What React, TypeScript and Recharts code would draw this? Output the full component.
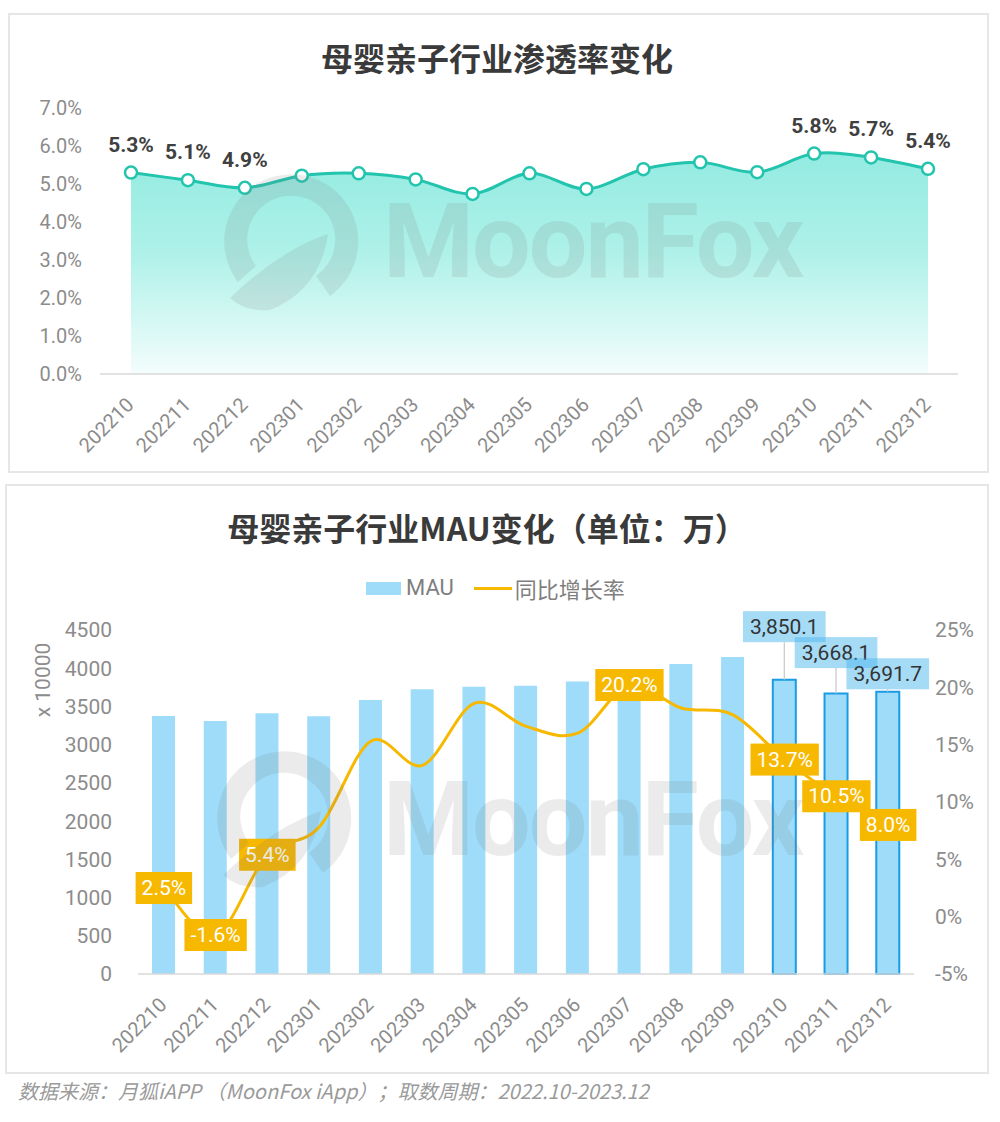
import React from 'react';
import {
  AreaChart,
  Area,
  ComposedChart,
  Bar,
  Line,
  XAxis,
  YAxis,
  LabelList,
  Legend,
  Cell,
} from 'recharts';

// ---------- data ----------
const months = [
  '202210', '202211', '202212', '202301', '202302', '202303', '202304', '202305',
  '202306', '202307', '202308', '202309', '202310', '202311', '202312',
];
const penetration = [5.3, 5.1, 4.9, 5.22, 5.28, 5.12, 4.74, 5.28, 4.87, 5.39, 5.57, 5.31, 5.8, 5.7, 5.4];
const mau = [3375, 3310, 3410, 3371, 3584, 3724, 3759, 3772, 3825, 3940, 4055, 4147, 3850.1, 3668.1, 3691.7];
const growth = [2.5, -1.6, 5.4, 7.8, 15.3, 13.2, 18.6, 16.6, 16.0, 20.2, 18.2, 17.6, 13.7, 10.5, 8.0];

const penTicks = [0, 1, 2, 3, 4, 5, 6, 7];
const mauTicks = [0, 500, 1000, 1500, 2000, 2500, 3000, 3500, 4000, 4500];
const growthTicks = [-5, 0, 5, 10, 15, 20, 25];

const penLabeled = [0, 1, 2, 12, 13, 14];
const growthLabeled = [0, 1, 2, 9, 12, 13, 14];
const mauHighlighted = [12, 13, 14];
const mauLabelLift = [53, 41, 18];

const penData = months.map((m, i) => ({ month: m, pen: penetration[i] }));
const mauData = months.map((m, i) => ({ month: m, mau: mau[i], growth: growth[i] }));

// ---------- style ----------
const FONT = "Roboto, 'Noto Sans CJK SC', sans-serif";
const CJK = "'Noto Sans CJK SC', Roboto, sans-serif";
const TEAL = '#22c4ae';
const ORANGE = '#f7b800';
const BAR = '#9edcfa';
const BAR_STROKE = '#1a9be6';
const TICK = '#8c8c8c';
const AXIS = '#d9d9d9';

// Catmull-Rom style smoothing (similar to spreadsheet "smoothed line")
const smoothCurve: any = (context: any) => {
  let line = NaN;
  let pts: number[][] = [];
  return {
    areaStart() { line = 0; },
    areaEnd() { line = NaN; },
    lineStart() { pts = []; },
    point(x: number, y: number) { pts.push([+x, +y]); },
    lineEnd() {
      const n = pts.length;
      if (n > 0) {
        if (line) context.lineTo(pts[0][0], pts[0][1]);
        else context.moveTo(pts[0][0], pts[0][1]);
        for (let i = 0; i < n - 1; i++) {
          const p0 = pts[Math.max(0, i - 1)];
          const p1 = pts[i];
          const p2 = pts[i + 1];
          const p3 = pts[Math.min(n - 1, i + 2)];
          context.bezierCurveTo(
            p1[0] + (p2[0] - p0[0]) / 6,
            p1[1] + (p2[1] - p0[1]) / 6,
            p2[0] - (p3[0] - p1[0]) / 6,
            p2[1] - (p3[1] - p1[1]) / 6,
            p2[0],
            p2[1],
          );
        }
      }
      if (line || (line !== 0 && n === 1)) context.closePath();
      line = 1 - line;
    },
  };
};

const charW: Record<string, number> = { '.': 0.263, '%': 0.733, '-': 0.276, ',': 0.196 };
const textWidth = (s: string, size: number) =>
  s.split('').reduce((a, c) => a + (charW[c] ?? 0.562), 0) * size;

const getIndex = (props: any, arr: number[]) => {
  if (typeof props.index === 'number') return props.index;
  return arr.indexOf(Number(props.value));
};
const getBox = (props: any) => {
  const vb = props.viewBox || {};
  const x = typeof props.x === 'number' ? props.x : vb.x;
  const y = typeof props.y === 'number' ? props.y : vb.y;
  const w = typeof props.width === 'number' ? props.width : vb.width || 0;
  const h = typeof props.height === 'number' ? props.height : vb.height || 0;
  return { x, y, w, h };
};

const RotTick = (props: any) => {
  const { x, y, payload } = props;
  return (
    <text
      x={0}
      y={0}
      transform={`translate(${x + 4},${y + 32}) rotate(-45)`}
      textAnchor="end"
      fill={TICK}
      fontSize={20}
      fontFamily={FONT}
    >
      {payload.value}
    </text>
  );
};

const PenLabel = (props: any) => {
  const i = getIndex(props, penetration);
  if (!penLabeled.includes(i)) return null;
  const { x, y, w } = getBox(props);
  return (
    <text
      x={x + w / 2}
      y={y - 21}
      textAnchor="middle"
      fill="#404040"
      fontSize={21}
      fontWeight={700}
      fontFamily={FONT}
    >
      {`${Number(props.value).toFixed(1)}%`}
    </text>
  );
};

const GrowthLabel = (props: any) => {
  const i = getIndex(props, growth);
  if (!growthLabeled.includes(i)) return null;
  const { x, y, w, h } = getBox(props);
  const cx = x + w / 2;
  const cy = y + h / 2;
  const text = `${Number(props.value).toFixed(1)}%`;
  const bw = textWidth(text, 21) + 12;
  return (
    <g>
      <rect x={cx - bw / 2} y={cy - 16} width={bw} height={32} fill={ORANGE} />
      <text
        x={cx}
        y={cy}
        textAnchor="middle"
        dominantBaseline="central"
        fill="#ffffff"
        fontSize={21}
        fontFamily={FONT}
      >
        {text}
      </text>
    </g>
  );
};

const MauLabel = (props: any) => {
  const i = getIndex(props, mau);
  const k = mauHighlighted.indexOf(i);
  if (k < 0) return null;
  const { x, y, w } = getBox(props);
  const cx = x + w / 2;
  const cy = y - mauLabelLift[k];
  const text = Number(props.value).toLocaleString('en-US', { minimumFractionDigits: 1, maximumFractionDigits: 1 });
  const bw = textWidth(text, 21) + 14;
  return (
    <g>
      {cy + 15.5 < y && <line x1={cx} y1={cy + 15.5} x2={cx} y2={y} stroke="#c8c8c8" strokeWidth={1.2} />}
      <rect x={cx - bw / 2} y={cy - 15.5} width={bw} height={31} fill="#4db8ee" fillOpacity={0.5} />
      <text
        x={cx}
        y={cy}
        textAnchor="middle"
        dominantBaseline="central"
        fill="#333333"
        fontSize={21}
        fontFamily={FONT}
      >
        {text}
      </text>
    </g>
  );
};

const LegendContent = () => (
  <div style={{ display: 'flex', alignItems: 'center', fontFamily: FONT, fontSize: 22, color: '#7f7f7f', whiteSpace: 'nowrap', lineHeight: '28px' }}>
    <span style={{ display: 'inline-block', width: 35, height: 13, background: BAR, marginRight: 5 }} />
    <span>MAU</span>
    <span style={{ display: 'inline-block', width: 38, height: 3, background: ORANGE, marginLeft: 20, marginRight: 3 }} />
    <span style={{ fontFamily: CJK }}>同比增长率</span>
  </div>
);

const Watermark = ({ cx, cy, tx, ty }: { cx: number; cy: number; tx: number; ty: number }) => (
  <g fill="#7a7a7a" fillOpacity={0.15}>
    <path
      d={`M ${cx - 52} ${cy + 42} A 67 67 0 1 1 ${cx + 40} ${cy + 56} L ${cx + 26} ${cy + 36} A 44 44 0 1 0 ${cx - 34} ${cy + 26} Z`}
    />
    <path
      d={`M ${cx - 60} ${cy + 58} Q ${cx - 10} ${cy + 10} ${cx + 38} ${cy - 6} Q ${cx + 30} ${cy + 50} ${cx - 20} ${cy + 70} Q ${cx - 45} ${cy + 72} ${cx - 60} ${cy + 58} Z`}
    />
    <text x={tx} y={ty} fontSize={104} fontWeight={700} fontFamily={FONT} letterSpacing={-2}>
      MoonFox
    </text>
  </g>
);

export default function App() {
  return (
    <div style={{ position: 'absolute', left: 0, top: 0, width: 1000, height: 1122, background: '#ffffff', overflow: 'hidden' }}>
      {/* panel frames */}
      <div style={{ position: 'absolute', left: 8, top: 13, width: 977, height: 456, border: '2px solid #e6e6e6' }} />
      <div style={{ position: 'absolute', left: 5, top: 484, width: 980, height: 586, border: '2px solid #e6e6e6' }} />

      {/* titles */}
      <div style={{ position: 'absolute', left: 0, top: 36, width: 994, textAlign: 'center', fontFamily: CJK, fontWeight: 700, fontSize: 32, lineHeight: '42px', color: '#3a3a3a' }}>
        母婴亲子行业渗透率变化
      </div>
      <div style={{ position: 'absolute', left: 0, top: 506, width: 974, textAlign: 'center', fontFamily: CJK, fontWeight: 700, fontSize: 32, lineHeight: '42px', color: '#3a3a3a' }}>
        母婴亲子行业MAU变化（单位：万）
      </div>

      {/* top chart */}
      <div style={{ position: 'absolute', left: 0, top: 0 }}>
        <AreaChart width={1000} height={480} data={penData} margin={{ top: 108, right: 42, bottom: 26, left: 0 }}>
          <defs>
            <linearGradient id="penFill" x1="0" y1="0" x2="0" y2="1">
              <stop offset="0%" stopColor="#93ebe1" />
              <stop offset="45%" stopColor="#aef1e9" />
              <stop offset="100%" stopColor="#f3fdfc" />
            </linearGradient>
          </defs>
          <XAxis
            dataKey="month"
            height={80}
            padding={{ left: 31, right: 30 }}
            axisLine={{ stroke: AXIS, strokeWidth: 1.5 }}
            tickLine={false}
            tickSize={0}
            tickMargin={0}
            interval={0}
            tick={<RotTick />}
          />
          <YAxis
            width={100}
            domain={[0, 7]}
            ticks={penTicks}
            axisLine={false}
            tickLine={false}
            tickSize={0}
            tickMargin={18}
            tickFormatter={(v: number) => `${v.toFixed(1)}%`}
            tick={{ fill: TICK, fontSize: 20, fontFamily: FONT }}
          />
          <Area
            dataKey="pen"
            type={smoothCurve}
            stroke={TEAL}
            strokeWidth={3}
            fill="url(#penFill)"
            fillOpacity={1}
            dot={{ r: 6, fill: '#ffffff', stroke: TEAL, strokeWidth: 2.5, fillOpacity: 1 }}
            activeDot={false}
            isAnimationActive={false}
          >
            <LabelList dataKey="pen" content={PenLabel} />
          </Area>
        </AreaChart>
      </div>

      {/* bottom chart */}
      <div style={{ position: 'absolute', left: 0, top: 540 }}>
        <ComposedChart width={1000} height={520} data={mauData} margin={{ top: 90, right: 0, bottom: 6, left: 0 }}>
          <XAxis
            dataKey="month"
            height={80}
            axisLine={{ stroke: AXIS, strokeWidth: 1.5 }}
            tickLine={false}
            tickSize={0}
            tickMargin={0}
            interval={0}
            tick={<RotTick />}
          />
          <YAxis
            yAxisId="left"
            width={138}
            domain={[0, 4500]}
            ticks={mauTicks}
            axisLine={false}
            tickLine={false}
            tickSize={0}
            tickMargin={26}
            tick={{ fill: TICK, fontSize: 21, fontFamily: FONT }}
            label={(p: any) => {
              const vb = p.viewBox || { x: 0, y: 90 };
              const cy = vb.y + 50;
              return (
                <text
                  x={43}
                  y={cy}
                  transform={`rotate(-90, 43, ${cy})`}
                  textAnchor="middle"
                  dominantBaseline="central"
                  fill={TICK}
                  fontSize={21}
                  fontFamily={FONT}
                >
                  x 10000
                </text>
              );
            }}
          />
          <YAxis
            yAxisId="right"
            orientation="right"
            width={86}
            domain={[-5, 25]}
            ticks={growthTicks}
            axisLine={false}
            tickLine={false}
            tickSize={0}
            tickMargin={21}
            tickFormatter={(v: number) => `${v}%`}
            tick={{ fill: TICK, fontSize: 21, fontFamily: FONT }}
          />
          <Legend
            layout="vertical"
            align="center"
            verticalAlign="middle"
            content={<LegendContent />}
            wrapperStyle={{ left: 366, top: 34, width: 'auto', height: 'auto' }}
          />
          <Bar yAxisId="left" dataKey="mau" name="MAU" barSize={23} isAnimationActive={false}>
            {mau.map((_, i) => (
              <Cell
                key={`c-${i}`}
                fill={BAR}
                stroke={mauHighlighted.includes(i) ? BAR_STROKE : 'none'}
                strokeWidth={mauHighlighted.includes(i) ? 2 : 0}
              />
            ))}
            <LabelList dataKey="mau" content={MauLabel} />
          </Bar>
          <Line
            yAxisId="right"
            dataKey="growth"
            name="同比增长率"
            type={smoothCurve}
            stroke={ORANGE}
            strokeWidth={3}
            dot={false}
            activeDot={false}
            isAnimationActive={false}
          >
            <LabelList dataKey="growth" content={GrowthLabel} />
          </Line>
        </ComposedChart>
      </div>

      {/* watermark */}
      <svg width={1000} height={1122} style={{ position: 'absolute', left: 0, top: 0, pointerEvents: 'none' }}>
        <Watermark cx={290} cy={240} tx={383} ty={277} />
        <Watermark cx={283} cy={817} tx={383} ty={855} />
      </svg>

      {/* footer */}
      <div style={{ position: 'absolute', left: 18, top: 1077, fontFamily: CJK, fontStyle: 'italic', fontSize: 20, lineHeight: '28px', color: '#9a9a9a', whiteSpace: 'nowrap' }}>
        数据来源：月狐iAPP （MoonFox iApp）；取数周期：2022.10-2023.12
      </div>
    </div>
  );
}
